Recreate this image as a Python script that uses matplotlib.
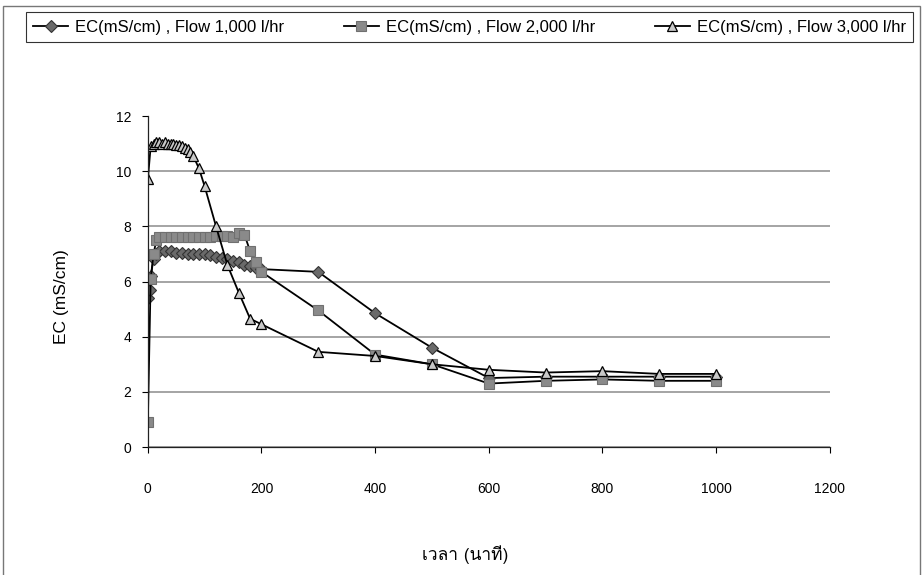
import matplotlib
matplotlib.use("Agg")
import matplotlib.pyplot as plt
from matplotlib import font_manager
from matplotlib.ft2font import FT2Font
from matplotlib.patches import Rectangle

# EC readings over time for three flow rates
t_1000 = [0, 3, 5, 10, 15, 20, 30, 40, 50, 60, 70, 80, 90, 100, 110, 120, 130,
          140, 150, 160, 170, 180, 190, 200, 300, 400, 500, 600, 700, 800, 900, 1000]
ec_1000 = [5.4, 5.7, 6.2, 6.8, 7.0, 7.1, 7.1, 7.1, 7.05, 7.05, 7.0, 7.0, 7.0, 7.0,
           6.95, 6.9, 6.85, 6.8, 6.75, 6.7, 6.6, 6.55, 6.5, 6.45, 6.35, 4.85, 3.6,
           2.5, 2.55, 2.55, 2.55, 2.55]

t_2000 = [0, 5, 10, 15, 20, 30, 40, 50, 60, 70, 80, 90, 100, 110, 120, 130, 140,
          150, 160, 170, 180, 190, 200, 300, 400, 500, 600, 700, 800, 900, 1000]
ec_2000 = [0.9, 6.1, 7.0, 7.5, 7.6, 7.6, 7.6, 7.6, 7.6, 7.6, 7.6, 7.6, 7.6, 7.6,
           7.65, 7.65, 7.65, 7.6, 7.75, 7.7, 7.1, 6.7, 6.35, 4.95, 3.35, 3.0, 2.3,
           2.4, 2.45, 2.4, 2.4]

t_3000 = [0, 5, 10, 15, 20, 25, 30, 35, 40, 45, 50, 55, 60, 65, 70, 75, 80, 90,
          100, 120, 140, 160, 180, 200, 300, 400, 500, 600, 700, 800, 900, 1000]
ec_3000 = [9.7, 10.9, 11.0, 11.05, 11.05, 11.0, 11.05, 11.0, 11.0, 11.0, 10.95,
           10.95, 10.9, 10.85, 10.8, 10.7, 10.55, 10.1, 9.45, 8.0, 6.6, 5.6, 4.65,
           4.45, 3.45, 3.3, 3.0, 2.8, 2.7, 2.75, 2.65, 2.65]

labels = ["EC(mS/cm) , Flow 1,000 l/hr", "EC(mS/cm) , Flow 2,000 l/hr",
          "EC(mS/cm) , Flow 3,000 l/hr"]
xlabel = "เวลา (นาที)"
ylabel = "EC (mS/cm)"


def find_family(text):
    # first installed font that has every glyph of text
    for f in font_manager.fontManager.ttflist:
        try:
            cmap = FT2Font(f.fname).get_charmap()
        except Exception:
            continue
        if all(ord(c) in cmap for c in text if not c.isspace()):
            return f.name
    return None


thai = find_family("เวลานาที")
base = ["Liberation Sans", "DejaVu Sans"]
plt.rcParams["font.family"] = base

fig = plt.figure(figsize=(9.24, 5.75), dpi=100)
ax = fig.add_axes([0.160, 0.2226, 0.738, 0.5756])

ax.plot(t_1000, ec_1000, color="black", lw=1.3, marker="D", ms=6.5,
        mfc="#6a6a6a", mec="#333333", mew=0.8, label=labels[0])
ax.plot(t_2000, ec_2000, color="black", lw=1.3, marker="s", ms=7,
        mfc="#8a8a8a", mec="#707070", mew=0.8, label=labels[1])
ax.plot(t_3000, ec_3000, color="black", lw=1.3, marker="^", ms=7.5,
        mfc="#c8c8c8", mec="black", mew=0.9, label=labels[2])

ax.set_xlim(0, 1200)
ax.set_ylim(0, 12)
ax.set_xticks(range(0, 1201, 200))
ax.set_yticks(range(0, 13, 2))
ax.tick_params(labelsize=10, length=4, width=0.8, direction="out")
ax.tick_params(axis="x", pad=21)
ax.tick_params(axis="y", pad=8)
ax.grid(axis="y", color="#8c8c8c", lw=1.1)
ax.yaxis.get_gridlines()[-1].set_visible(False)
ax.set_axisbelow(True)
for s in ["top", "right"]:
    ax.spines[s].set_visible(False)
for s in ["left", "bottom"]:
    ax.spines[s].set_color("#222222")
    ax.spines[s].set_linewidth(0.9)

xfam = [thai] + base if thai else base
ax.set_xlabel(xlabel, fontsize=12.5, family=xfam)
ax.xaxis.set_label_coords(0.465, -0.296)
ax.set_ylabel(ylabel, fontsize=12.5)
ax.yaxis.set_label_coords(-0.116, 0.453)

leg = fig.legend(loc="center", bbox_to_anchor=(0.508, 0.953), ncol=3,
                 fontsize=12, frameon=True, fancybox=False, edgecolor="black",
                 handlelength=2.1, handletextpad=0.4, columnspacing=3.6,
                 borderpad=0.45, borderaxespad=0)
leg.get_frame().set_linewidth(0.8)

# light border around the chart area
fig.patches.append(Rectangle((0.003, -0.01), 0.993, 1.0, transform=fig.transFigure,
                             fill=False, ec="#777777", lw=1.0))

fig.savefig("out.png", dpi=100)
